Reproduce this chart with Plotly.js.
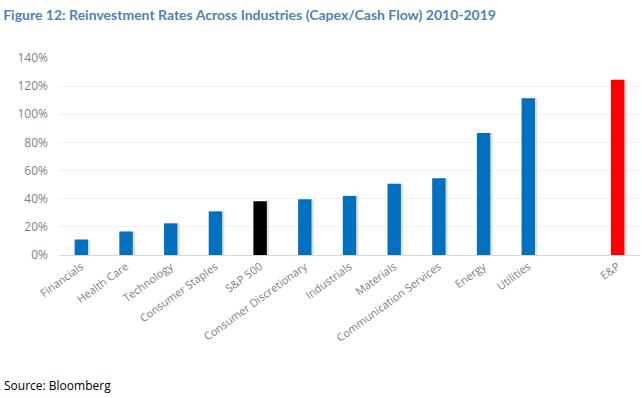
<!DOCTYPE html>
<html>
<head>
<meta charset="utf-8">
<script src="https://cdn.plot.ly/plotly-3.0.1.min.js"></script>
<style>
html,body{margin:0;padding:0;background:#fff;}
#chart{width:642px;height:398px;}
</style>
</head>
<body>
<div id="chart"></div>
<script>
const categories = ["Financials","Health Care","Technology","Consumer Staples","S&P 500","Consumer Discretionary","Industrials","Materials","Communication Services","Energy","Utilities"," ","E&P"];
const values = [0.11, 0.167, 0.225, 0.31, 0.382, 0.396, 0.42, 0.506, 0.545, 0.867, 1.114, null, 1.246];
const barColors = ["#0070C0","#0070C0","#0070C0","#0070C0","#000000","#0070C0","#0070C0","#0070C0","#0070C0","#0070C0","#0070C0","#0070C0","#FF0000"];
const yTicks = [0,0.2,0.4,0.6,0.8,1.0,1.2,1.4];
const yTickLabels = ["0%","20%","40%","60%","80%","100%","120%","140%"];

const barWidth = 0.3;

const shadow = {
  type: 'bar',
  x: categories,
  y: values,
  width: barWidth,
  offset: -barWidth/2 + 0.05,
  marker: {color: 'rgba(70,90,130,0.18)'},
  hoverinfo: 'skip'
};

const trace = {
  type: 'bar',
  x: categories,
  y: values,
  width: barWidth,
  offset: -barWidth/2,
  marker: {color: barColors},
  hoverinfo: 'x+y'
};

const layout = {
  width: 642, height: 398,
  margin: {l: 59, r: 2, t: 58, b: 143},
  paper_bgcolor: '#ffffff', plot_bgcolor: '#ffffff',
  barmode: 'overlay',
  showlegend: false,
  font: {family: 'Open Sans, sans-serif', color: '#7f7f7f'},
  title: {
    text: '<b>Figure 12: Reinvestment Rates Across Industries (Capex/Cash Flow) 2010-2019</b>',
    font: {family: 'Lato, sans-serif', size: 14, color: '#4F81BD'},
    x: 0.005, xanchor: 'left', xref: 'container',
    y: 1 - 15/398, yanchor: 'middle', yref: 'container'
  },
  xaxis: {
    type: 'category',
    tickangle: -36,
    tickfont: {size: 11, color: '#7f7f7f'},
    showline: true, linecolor: '#d9d9d9', linewidth: 1,
    showgrid: false, ticks: '', zeroline: false
  },
  yaxis: {
    range: [0, 1.4],
    tickvals: yTicks, ticktext: yTickLabels,
    tickfont: {size: 12, color: '#7f7f7f'},
    showgrid: true, gridcolor: '#f2f2f2', gridwidth: 1,
    zeroline: false, showline: false, ticks: '', ticklabelstandoff: 10
  },
  annotations: [{
    text: 'Source: Bloomberg',
    xref: 'paper', yref: 'paper',
    x: (2 - 59) / (642 - 59 - 2),
    y: -(385 - 255) / (255 - 58),
    xanchor: 'left', yanchor: 'middle',
    showarrow: false,
    font: {family: 'Open Sans, sans-serif', size: 12, color: '#000000'}
  }]
};

Plotly.newPlot('chart', [shadow, trace], layout, {displayModeBar: false, staticPlot: true});
</script>
</body>
</html>
